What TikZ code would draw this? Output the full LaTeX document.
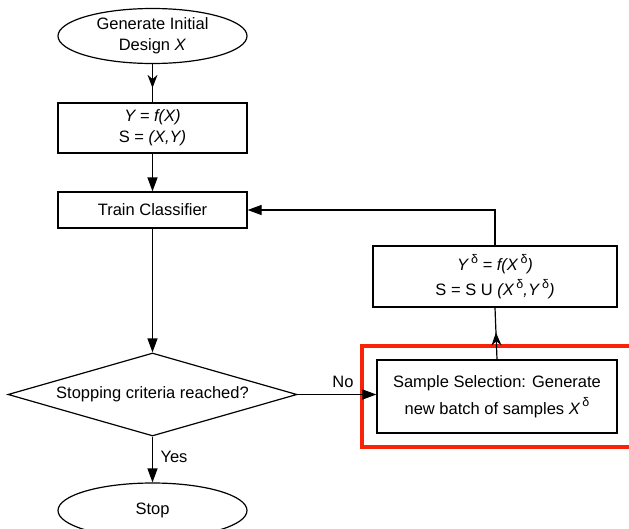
\documentclass[tikz,border=0pt]{standalone}
\usepackage{fontspec}
\setmainfont{Liberation Sans}
\usetikzlibrary{shapes.geometric,arrows.meta,decorations.markings}
\definecolor{hl}{RGB}{250,35,10}
\newcommand{\dsup}{\raisebox{0.45em}{\fontsize{12.5}{12.5}\selectfont\,δ}}
\begin{document}
\begin{tikzpicture}[x=1pt,y=-1pt,
  every node/.style={font=\fontsize{16.5}{21}\selectfont, inner sep=0pt, align=center},
  blk/.style={draw, line width=1.2pt, rectangle},
  term/.style={draw, line width=1.2pt, ellipse, minimum width=189pt, minimum height=55pt},
  dec/.style={draw, line width=1.2pt, diamond, shape aspect=3.48, minimum width=289pt, minimum height=83pt},
  conn/.style={line width=1.2pt},
  arr/.style={conn, -{Triangle[length=14pt,width=10pt]}},
  midarr/.style={conn, postaction={decorate}, decoration={markings,
     mark=at position #1 with {\arrow{Stealth[length=13pt,width=10pt]}}}},
  lbl/.style={font=\fontsize{16.5}{21}\selectfont}
]
\useasboundingbox (0,0) rectangle (629,528);
\node[term] (start) at (152.5,36) {Generate Initial\\Design \textit{X}};
\node[blk, minimum width=189pt, minimum height=50pt] (b1) at (152.5,128) {\textit{Y = f(X)}\\S = \textit{(X,Y)}};
\node[blk, minimum width=189pt, minimum height=36pt] (train) at (152.5,210) {Train Classifier};
\node[dec] (dia) at (152.5,394.5) {Stopping criteria reached?};
\node[term] (stop) at (152.5,510.5) {Stop};
\node[blk, minimum width=244pt, minimum height=61pt, font=\fontsize{16.5}{25}\selectfont] (ybox) at (495,276.5)
  {\textit{Y}\dsup\ \textit{= f(X}\dsup\textit{)}\\S = S U \textit{(X}\dsup\textit{,Y}\dsup\textit{)}};
\node[blk, minimum width=240pt, minimum height=73pt, font=\fontsize{16.5}{27}\selectfont] (sample) at (497,396.5)
  {Sample Selection: Generate\\new batch of samples \textit{X}\dsup};
\draw[hl, line width=4pt] (362,346) rectangle (660,447);
\coordinate (turn) at (ybox.north |- train.east);
\draw[midarr=0.62] (start.south) -- (b1.north);
\draw[arr] (b1.south) -- (train.north);
\draw[arr] (train.south) -- (dia.north);
\draw[arr] (dia.south) -- (stop.north);
\draw[arr] (dia.east) -- (dia.east -| sample.west);
\draw[midarr=0.52] (sample.north) -- (ybox.south);
\draw[arr] (ybox.north) -- (turn) -- (train.east);
\node[lbl] (no) at (343,382) {No};
\node[lbl] (yes) at (174,457) {Yes};
\end{tikzpicture}
\end{document}
